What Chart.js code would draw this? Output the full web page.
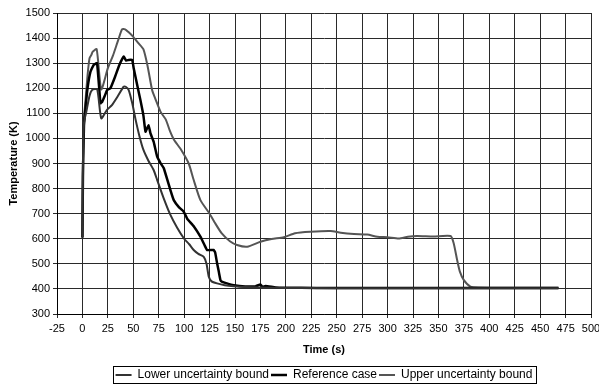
<!DOCTYPE html>
<html>
<head>
<meta charset="utf-8">
<script src="https://cdn.jsdelivr.net/npm/chart.js@4/dist/chart.umd.min.js"></script>
<style>
  html, body { margin: 0; padding: 0; background: #fff; }
  #wrap { width: 599px; height: 388px; }
</style>
</head>
<body>
<div id="wrap"><canvas id="c" width="599" height="388"></canvas></div>
<script>
// time (s) / temperature (K)
const lowerTime = [0, 0.5, 1.5, 4, 7, 9.5, 14.5, 18.5, 24, 29, 35, 40.5, 42.5, 45.5, 49, 52, 56, 60, 65, 70, 73.5, 80, 86.5, 93, 100, 105, 109.4, 114, 119.3, 122, 124.2, 127, 132.4, 140, 148.8, 160, 175, 200, 250, 300, 350, 400, 450, 468];
const lowerTemp = [605, 900, 1060, 1110, 1170, 1193, 1196, 1080, 1113, 1133, 1170, 1206, 1206, 1193, 1140, 1080, 1010, 954, 910, 874, 834, 760, 695, 645, 600, 578, 555, 540, 528, 500, 449, 430, 422, 415, 411, 408, 406, 404, 403, 403, 403, 403, 403, 403];

const refTime = [0, 0.5, 1.5, 3, 5, 7.9, 11, 14.4, 17.7, 19.4, 22, 24.3, 27.5, 32, 36, 40.6, 43, 45.5, 48.9, 50.4, 54, 57, 60, 62, 65, 66.9, 70, 73.5, 77, 80, 86.5, 89.8, 95, 99.6, 103, 109.4, 116, 120, 122.6, 129, 130.5, 132.4, 134, 135.7, 137, 142, 148.8, 160, 170, 175, 177, 180, 190, 200, 230, 300, 400, 468];
const refTemp = [605, 850, 1050, 1120, 1200, 1266, 1293, 1300, 1140, 1146, 1170, 1193, 1200, 1245, 1290, 1326, 1310, 1313, 1313, 1280, 1210, 1153, 1090, 1027, 1053, 1020, 987, 927, 900, 881, 794, 754, 725, 708, 680, 650, 608, 575, 555, 555, 545, 502, 470, 435, 429, 422, 415, 410, 410, 418, 408, 412, 406, 405, 404, 404, 404, 404];

const upperTime = [0, 0.5, 1.5, 3, 5, 7, 8.8, 10, 14, 18.5, 25, 30, 35, 39, 42, 45, 50, 55, 60, 64, 68.5, 72, 77, 82, 86, 90, 97, 104.5, 109.4, 116, 125, 130, 137, 145, 152, 162, 175, 186, 198, 209, 224, 244, 254, 267, 280, 290, 300, 311, 320, 329, 345, 362, 365, 368.4, 371, 375, 381.5, 390, 420, 468];
const upperTemp = [605, 900, 1080, 1150, 1250, 1320, 1333, 1345, 1356, 1195, 1280, 1330, 1390, 1435, 1435, 1425, 1405, 1380, 1355, 1290, 1193, 1155, 1105, 1075, 1030, 995, 955, 900, 834, 754, 700, 665, 621, 590, 575, 568, 588, 599, 606, 622, 628, 631, 624, 619, 617, 608, 606, 601, 608, 611, 609, 611, 582, 515, 470, 435, 409, 406, 405, 405];

const seriesNames = ['Lower uncertainty bound', 'Reference case', 'Upper uncertainty bound'];
const xTicksMin = -25, xTicksMax = 500, xStep = 25;
const yTicksMin = 300, yTicksMax = 1500, yStep = 100;

const pts = (ts, vs) => ts.map((t, i) => ({ x: t, y: vs[i] }));

const FONT = "'Liberation Sans', Arial, sans-serif";
Chart.defaults.font.family = FONT;
Chart.defaults.color = '#000';

// box around the legend like the original
const legendFrame = {
    id: 'legendFrame',
    afterDraw(chart) {
        const boxes = chart.legend && chart.legend.legendHitBoxes;
        if (!boxes || !boxes.length) return;
        let l = Infinity, r = -Infinity, t = Infinity, b = -Infinity;
        boxes.forEach(h => {
            l = Math.min(l, h.left); r = Math.max(r, h.left + h.width);
            t = Math.min(t, h.top); b = Math.max(b, h.top + h.height);
        });
        const ctx = chart.ctx;
        ctx.save();
        ctx.strokeStyle = '#000';
        ctx.lineWidth = 1;
        ctx.strokeRect(Math.round(l - 3) + 0.5, Math.round(t - 3) + 0.5, Math.round(r - l + 6), Math.round(b - t + 5));
        ctx.restore();
    }
};

new Chart(document.getElementById('c'), {
    type: 'line',
    data: {
        datasets: [
            { label: seriesNames[0], data: pts(lowerTime, lowerTemp), borderColor: '#333333', backgroundColor: '#333333', borderWidth: 2, pointRadius: 0, tension: 0.2 },
            { label: seriesNames[1], data: pts(refTime, refTemp), borderColor: '#000000', backgroundColor: '#000000', borderWidth: 2.5, pointRadius: 0, tension: 0.1 },
            { label: seriesNames[2], data: pts(upperTime, upperTemp), borderColor: '#555555', backgroundColor: '#555555', borderWidth: 2, pointRadius: 0, tension: 0.2 }
        ]
    },
    options: {
        responsive: false,
        animation: false,
        layout: { padding: { top: 13, right: 8, left: 0, bottom: -3 } },
        plugins: {
            tooltip: { enabled: false },
            legend: {
                position: 'bottom',
                fullSize: false,
                labels: {
                    usePointStyle: true,
                    pointStyle: 'line',
                    pointStyleWidth: 16,
                    padding: 2,
                    color: '#000',
                    font: { size: 12, family: FONT }
                }
            }
        },
        scales: {
            x: {
                type: 'linear',
                min: xTicksMin, max: xTicksMax,
                afterFit: s => { s.height = 53; s.paddingRight = 0; s.paddingLeft = 0; },
                ticks: { stepSize: xStep, color: '#000', font: { size: 11 }, maxRotation: 0, autoSkip: false, padding: 4 },
                grid: { color: '#2a2a2a', lineWidth: 1, tickLength: 4 },
                border: { color: '#000', width: 1 },
                title: { display: true, text: 'Time (s)', color: '#000', font: { size: 11, weight: 'bold' }, padding: { top: 2, bottom: 10 } }
            },
            y: {
                min: yTicksMin, max: yTicksMax,
                afterFit: s => { s.width = 57; s.paddingTop = 0; s.paddingBottom = 0; },
                ticks: { stepSize: yStep, color: '#000', font: { size: 11 }, padding: 3, callback: v => String(v) },
                grid: { color: '#2a2a2a', lineWidth: 1, tickLength: 4 },
                border: { color: '#000', width: 1 },
                title: { display: true, text: 'Temperature (K)', color: '#000', font: { size: 11, weight: 'bold' }, padding: { top: 7, bottom: 4 } }
            }
        }
    },
    plugins: [legendFrame]
});
</script>
</body>
</html>
